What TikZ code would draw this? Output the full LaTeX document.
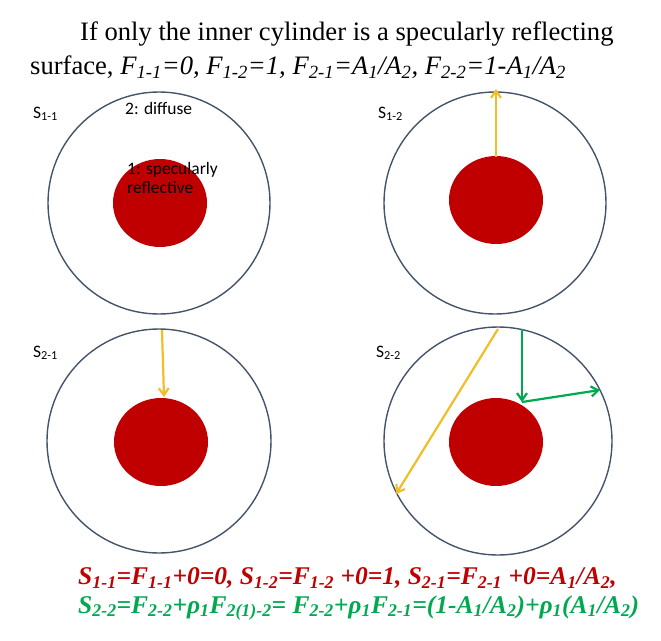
\documentclass[tikz,border=0pt]{standalone}
\usepackage{fontspec}
\setmainfont{Liberation Serif}
\newfontfamily\calfnt{Carlito}
\usetikzlibrary{arrows.meta}
\definecolor{ring}{RGB}{68,84,106}
\definecolor{core}{RGB}{192,0,0}
\definecolor{ylw}{RGB}{240,190,40}
\definecolor{grn}{RGB}{0,168,80}
\tikzset{outer/.style={draw=ring,line width=1.4pt},
 inner/.style={fill=core,draw=none},
 ray/.style={line width=2.2pt,-{Straight Barb[length=7pt,width=10pt]}},
 lab/.style={font=\calfnt\fontsize{17.5}{19}\selectfont,anchor=west,inner sep=0pt,align=left}}
\newcommand{\sbs}[1]{\textsubscript{#1}}
\begin{document}
\begin{tikzpicture}[x=1pt,y=-1pt]
\useasboundingbox (0,0) rectangle (661,640);
\node[anchor=west,inner sep=0pt,font=\fontsize{26.6}{30}\selectfont] (t1) at (80,34) {If only the inner cylinder is a specularly reflecting};
\node[anchor=west,inner sep=0pt,font=\fontsize{26.6}{30}\selectfont] (t2) at (30,67) {surface, \textit{F\sbs{1-1}=0, F\sbs{1-2}=1, F\sbs{2-1}=A\sbs{1}/A\sbs{2}, F\sbs{2-2}=1-A\sbs{1}/A\sbs{2}}};
% TL
\draw[outer] (159,203) circle (111);
\fill[inner] (160,203) ellipse (47 and 44);
\node[lab] (s11) at (33,114) {S\sbs{1-1}};
\node[lab] (d) at (125,108) {2: diffuse};
\node[lab] (sp) at (127,178) {1: specularly\\reflective};
% TR
\draw[outer] (495,203) circle (111);
\fill[inner] (496,200) ellipse (47 and 44);
\node[lab] (s12) at (378,114) {S\sbs{1-2}};
\coordinate (a1) at (496,157); \coordinate (a2) at (496,89);
\draw[ray,ylw] (a1) -- (a2);
% BL
\draw[outer] (159,441) circle (112);
\fill[inner] (161,442) ellipse (47 and 44);
\node[lab] (s21) at (33,353) {S\sbs{2-1}};
\coordinate (b1) at (162,330); \coordinate (b2) at (164,397);
\draw[ray,ylw] (b1) -- (b2);
% BR
\draw[outer] (498,441) circle (114);
\fill[inner] (496,442) ellipse (47 and 44);
\node[lab] (s22) at (376,353) {S\sbs{2-2}};
\coordinate (c1) at (498,329); \coordinate (c2) at (396,494);
\draw[ray,ylw] (c1) -- (c2);
\coordinate (g1) at (522,329); \coordinate (g2) at (522,402); \coordinate (g3) at (600,390);
\draw[ray,grn] (g1) -- (g2);
\draw[ray,grn] (g2) -- (g3);
% equations
\node[anchor=west,inner sep=0pt,text=core,font=\bfseries\itshape\fontsize{25.5}{28}\selectfont] (e1) at (78,578) {S\sbs{1-1}=F\sbs{1-1}+0=0, S\sbs{1-2}=F\sbs{1-2} +0=1, S\sbs{2-1}=F\sbs{2-1} +0=A\sbs{1}/A\sbs{2},};
\node[anchor=west,inner sep=0pt,text=grn,font=\bfseries\itshape\fontsize{25.5}{28}\selectfont] (e2) at (78,608) {S\sbs{2-2}=F\sbs{2-2}+ρ\sbs{1}F\sbs{2(1)-2}= F\sbs{2-2}+ρ\sbs{1}F\sbs{2-1}=(1-A\sbs{1}/A\sbs{2})+ρ\sbs{1}(A\sbs{1}/A\sbs{2})};
\end{tikzpicture}
\end{document}
